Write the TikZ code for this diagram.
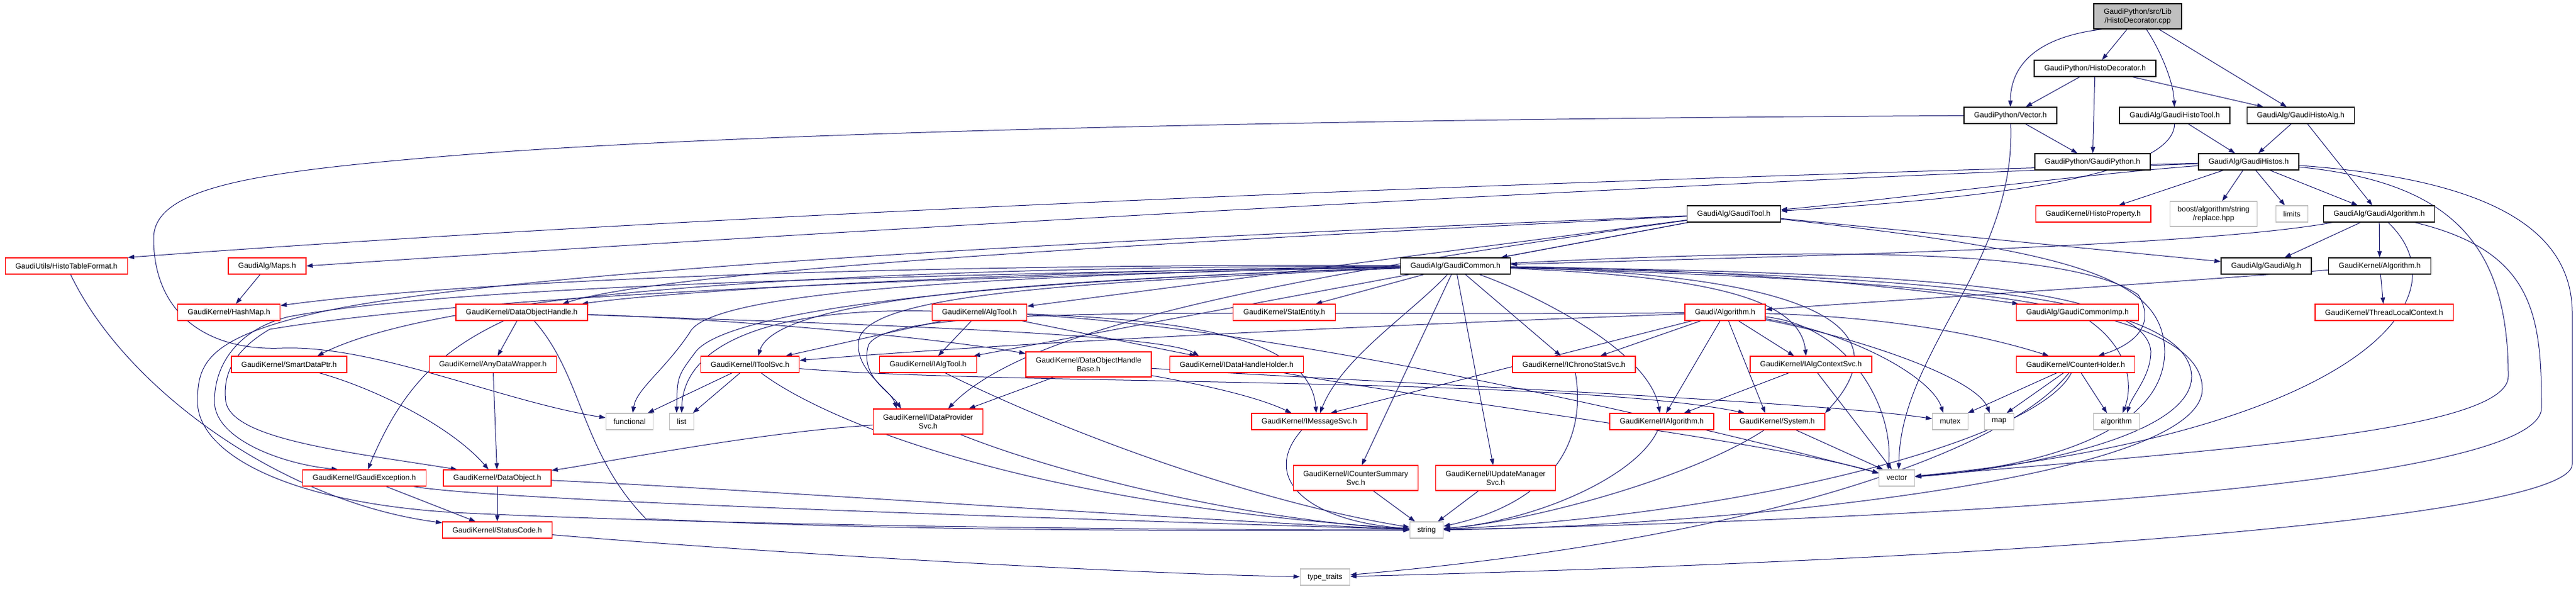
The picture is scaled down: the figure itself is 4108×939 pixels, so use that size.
\documentclass[tikz,border=0pt]{standalone}
\usepackage{fontspec}
\newfontfamily\dxfont{Liberation Sans}
\usetikzlibrary{arrows.meta}
\definecolor{edgeblue}{HTML}{191970}
\definecolor{sysgray}{HTML}{BFBFBF}
\pgfdeclarelayer{bg}
\pgfsetlayers{bg,main}

\begin{document}
\begin{tikzpicture}[x=1pt,y=-1pt,
	hdr/.style={draw=black,fill=white,line width=1.2pt,minimum height=26pt,
		inner xsep=16pt,inner ysep=2pt,align=center,
		font=\dxfont\fontsize{12}{14}\selectfont},
	hdrred/.style={hdr,draw=red},
	hdrsys/.style={hdr,draw=sysgray,inner xsep=12pt},
	hdrroot/.style={hdr,fill=sysgray},
	twol/.style={minimum height=40pt},
	inc/.style={draw=edgeblue,line width=1pt,-{Triangle[length=10pt,width=7pt]}}]
	\useasboundingbox (0,0) rectangle (4108,939);

	% row 0-3
	\node[hdrroot,twol] (root)   at (3409,26)  {GaudiPython/src/Lib\\/HistoDecorator.cpp};
	\node[hdr]          (hdec)   at (3341,109) {GaudiPython/HistoDecorator.h};
	\node[hdr]          (vec)    at (3206,184) {GaudiPython/Vector.h};
	\node[hdr]          (hisT)   at (3468,184) {GaudiAlg/GaudiHistoTool.h};
	\node[hdr]          (hisA)   at (3669,184) {GaudiAlg/GaudiHistoAlg.h};
	\node[hdr]          (gpy)    at (3337,258) {GaudiPython/GaudiPython.h};
	\node[hdr]          (histos) at (3586,258) {GaudiAlg/GaudiHistos.h};
	% row 4
	\node[hdrred]       (hprop)  at (3338,341) {GaudiKernel/HistoProperty.h};
	\node[hdrsys,twol]  (repl)   at (3530,341) {boost/algorithm/string\\/replace.hpp};
	\node[hdrsys]       (limits) at (3655,341) {limits};
	\node[hdr]          (galgo)  at (3794,341) {GaudiAlg/GaudiAlgorithm.h};
	\node[hdr]          (gtool)  at (2765,341) {GaudiAlg/GaudiTool.h};
	% row 5
	\node[hdrred]       (htf)     at (106,424)  {GaudiUtils/HistoTableFormat.h};
	\node[hdrred]       (maps)    at (426,424)  {GaudiAlg/Maps.h};
	\node[hdr]          (gcommon) at (2321,424) {GaudiAlg/GaudiCommon.h};
	\node[hdr]          (galg)    at (3614,424) {GaudiAlg/GaudiAlg.h};
	\node[hdr]          (kalgo)   at (3795,424) {GaudiKernel/Algorithm.h};
	% row 6
	\node[hdrred] (hashmap)    at (365,498)  {GaudiKernel/HashMap.h};
	\node[hdrred] (doh)        at (832,498)  {GaudiKernel/DataObjectHandle.h};
	\node[hdrred] (algtool)    at (1562,498) {GaudiKernel/AlgTool.h};
	\node[hdrred] (stat)       at (2048,498) {GaudiKernel/StatEntity.h};
	\node[hdrred] (galgorithm) at (2751,498) {Gaudi/Algorithm.h};
	\node[hdrred] (cimp)       at (3313,498) {GaudiAlg/GaudiCommonImp.h};
	\node[hdrred] (tlc)        at (3802,498) {GaudiKernel/ThreadLocalContext.h};
	% row 7
	\node[hdrred]      (sdp)      at (461,581)  {GaudiKernel/SmartDataPtr.h};
	\node[hdrred]      (adw)      at (786,581)  {GaudiKernel/AnyDataWrapper.h};
	\node[hdrred]      (itoolsvc) at (1196,581) {GaudiKernel/IToolSvc.h};
	\node[hdrred]      (ialgtool) at (1480,581) {GaudiKernel/IAlgTool.h};
	\node[hdrred,twol] (dohb)     at (1736,581) {GaudiKernel/DataObjectHandle\\Base.h};
	\node[hdrred]      (idhh)     at (1972,581) {GaudiKernel/IDataHandleHolder.h};
	\node[hdrred]      (ichrono)  at (2510,581) {GaudiKernel/IChronoStatSvc.h};
	\node[hdrred]      (ictx)     at (2888,581) {GaudiKernel/IAlgContextSvc.h};
	\node[hdrred]      (cholder)  at (3310,581) {GaudiKernel/CounterHolder.h};
	% row 8
	\node[hdrsys]      (functional) at (1004,672) {functional};
	\node[hdrsys]      (list)       at (1087,672) {list};
	\node[hdrred,twol] (idps)       at (1480,672) {GaudiKernel/IDataProvider\\Svc.h};
	\node[hdrred]      (imsg)       at (2088,672) {GaudiKernel/IMessageSvc.h};
	\node[hdrred]      (ialgo)      at (2650,672) {GaudiKernel/IAlgorithm.h};
	\node[hdrred]      (system)     at (2834,672) {GaudiKernel/System.h};
	\node[hdrsys]      (mutex)      at (3110,672) {mutex};
	\node[hdrsys]      (map)        at (3188,672) {map};
	\node[hdrsys]      (algorithm)  at (3375,672) {algorithm};
	% row 9-11
	\node[hdrred]      (gexc)   at (581,762)  {GaudiKernel/GaudiException.h};
	\node[hdrred]      (dobj)   at (793,762)  {GaudiKernel/DataObject.h};
	\node[hdrred,twol] (icss)   at (2162,762) {GaudiKernel/ICounterSummary\\Svc.h};
	\node[hdrred,twol] (iums)   at (2385,762) {GaudiKernel/IUpdateManager\\Svc.h};
	\node[hdrsys]      (vector) at (3025,762) {vector};
	\node[hdrred]      (scode)  at (793,845)  {GaudiKernel/StatusCode.h};
	\node[hdrsys]      (string) at (2275,845) {string};
	\node[hdrsys]      (tt)     at (2113,920) {type\_traits};

	\begin{pgfonlayer}{bg}
	% top part
	\draw[inc] (root.200) .. controls (3240,60) and (3206,110) .. (vec);
	\draw[inc] (root) -- (hdec);
	\draw[inc] (root) .. controls (3445,80) and (3466,130) .. (hisT);
	\draw[inc] (root) -- (hisA);
	\draw[inc] (hdec) -- (vec);
	\draw[inc] (hdec) -- (gpy);
	\draw[inc] (hdec) -- (hisA);
	\draw[inc] (vec) -- (gpy);
	\draw[inc] (vec) .. controls (2000,190) and (1100,215) .. (700,250) .. controls (400,275) and (245,300) .. (245,380)
		.. controls (245,500) and (330,560) .. (450,555) .. controls (600,550) and (800,640) .. (functional);
	\draw[inc] (vec) .. controls (3215,420) and (3030,560) .. ([xshift=3pt]vector.north);
	\draw[inc] (hisT) -- (histos);
	\draw[inc] (hisT) .. controls (3466,290) and (3100,320) .. (gtool);
	\draw[inc] (hisA) -- (histos);
	\draw[inc] (hisA) -- (galgo);
	% GaudiHistos.h
	\draw[inc] (histos) -- (hprop);
	\draw[inc] (histos) -- (repl);
	\draw[inc] (histos) -- (limits);
	\draw[inc] (histos) -- (galgo);
	\draw[inc] (histos) .. controls (3300,280) and (3000,320) .. (gtool);
	\draw[inc] (histos) .. controls (2600,285) and (1300,330) .. (htf.north east);
	\draw[inc] (histos) .. controls (2600,295) and (1300,370) .. (maps.east);
	\draw[inc] (histos) .. controls (3900,290) and (4000,380) .. (4000,600) .. controls (4000,690) and (3500,720) .. (vector);
	\draw[inc] (histos) .. controls (3960,285) and (4102,360) .. (4102,500) -- (4102,740)
		.. controls (4102,820) and (3300,890) .. (tt);
	% GaudiAlgorithm.h
	\draw[inc] (galgo) .. controls (3500,395) and (2800,410) .. (gcommon);
	\draw[inc] (galgo) -- (galg);
	\draw[inc] (galgo) -- (kalgo);
	\draw[inc] (galgo) .. controls (3940,480) and (3750,690) .. (vector);
	\draw[inc] (galgo) .. controls (4040,400) and (4053,500) .. (4053,650) .. controls (4053,780) and (3000,830) .. (string);
	% GaudiTool.h
	\draw[inc] (gtool) -- (gcommon);
	\draw[inc] (gtool) -- (algtool);
	\draw[inc] (gtool) -- (ialgtool);
	\draw[inc] (gtool) -- (galg);
	\draw[inc] (gtool) .. controls (3300,400) and (3450,440) .. (3452,560) .. controls (3452,690) and (3250,745) .. (vector);
	\draw[inc] (gtool) .. controls (2200,370) and (1100,420) .. ([xshift=65pt]doh.north);
	\draw[inc] (gtool) .. controls (1800,380) and (800,430) .. (500,500) .. controls (330,540) and (315,580) .. (315,640)
		.. controls (315,720) and (450,800) .. (723,817) .. controls (1200,840) and (1900,845) .. (string);
	\draw[inc] (gtool) .. controls (2050,440) and (1640,520) .. ([xshift=32pt]idps.north);
	% GaudiCommon.h
	\draw[inc] (gcommon) .. controls (1600,420) and (800,440) .. (hashmap);
	\draw[inc] (gcommon) .. controls (1700,430) and (1100,460) .. (doh);
	\draw[inc] (gcommon) .. controls (1300,425) and (700,470) .. ([xshift=45pt]sdp.north);
	\draw[inc] (gcommon) .. controls (1300,440) and (700,460) .. (460,505) .. controls (380,525) and (342,580) .. (342,640)
		.. controls (342,700) and (450,740) .. ([xshift=-42pt]gexc.north);
	\draw[inc] (gcommon) .. controls (1300,445) and (700,480) .. (430,525) .. controls (370,560) and (355,600) .. (360,640)
		.. controls (370,700) and (550,720) .. ([xshift=-64pt]dobj.north);
	\draw[inc] (gcommon) .. controls (1500,440) and (1130,470) .. (1100,530) .. controls (1060,590) and (1015,620) .. ([xshift=5pt]functional.north);
	\draw[inc] (gcommon) .. controls (1500,450) and (1160,500) .. (1110,560) .. controls (1080,600) .. ([xshift=-8pt]list.north);
	\draw[inc] (gcommon) .. controls (1700,445) and (1240,470) .. ([xshift=13pt]itoolsvc.north);
	\draw[inc] (gcommon) -- (stat);
	\draw[inc] (gcommon) .. controls (1700,450) and (1390,470) .. (1370,540) .. controls (1360,590) and (1420,620) .. ([xshift=-50pt]idps.north);
	\draw[inc] (gcommon) -- ([xshift=-21pt]ichrono.north);
	\draw[inc] (gcommon) .. controls (2700,440) and (2870,470) .. ([xshift=-8pt]ictx.north);
	\draw[inc] (gcommon) .. controls (2450,470) and (2630,560) .. ([xshift=-3pt]ialgo.north);
	\draw[inc] (gcommon) .. controls (2950,440) and (3020,540) .. (system.north east);
	\draw[inc] (gcommon) .. controls (2250,500) and (2140,570) .. ([xshift=17pt]imsg.north);
	\draw[inc] (gcommon) -- (icss);
	\draw[inc] (gcommon) -- (iums);
	\draw[inc] (gcommon) .. controls (2800,430) and (3050,460) .. (cimp);
	\draw[inc] (gcommon) .. controls (2900,395) and (3300,395) .. (3410,470) .. controls (3440,520) and (3400,550) .. ([xshift=36pt]cholder.north);
	\draw[inc] (gcommon) .. controls (3000,435) and (3420,450) .. (3430,560) .. controls (3430,600) and (3400,630) .. ([xshift=17pt]algorithm.north);
	\draw[inc] (gcommon) .. controls (3000,440) and (3490,460) .. (3495,600) .. controls (3495,700) and (3200,750) .. (vector);
	\draw[inc] (gcommon) .. controls (3000,445) and (3512,470) .. (3512,620) .. controls (3512,770) and (2700,840) .. (string);
	% GaudiKernel/Algorithm.h and Gaudi/Algorithm.h
	\draw[inc] (kalgo) .. controls (3400,455) and (3000,480) .. (galgorithm);
	\draw[inc] (kalgo) -- (tlc);
	\draw[inc] (galgorithm) .. controls (2300,515) and (1700,540) .. (itoolsvc);
	\draw[inc] (galgorithm) .. controls (2000,505) and (1420,480) .. (1385,550) .. controls (1370,600) and (1420,625) .. ([xshift=-43pt]idps.north);
	\draw[inc] (galgorithm) -- ([xshift=42pt]ichrono.north);
	\draw[inc] (galgorithm) -- ([xshift=-27pt]ictx.north);
	\draw[inc] (galgorithm) -- ([xshift=7pt]ialgo.north);
	\draw[inc] (galgorithm) -- ([xshift=-19pt]system.north);
	\draw[inc] (galgorithm) -- ([xshift=34pt]imsg.north);
	\draw[inc] (galgorithm) .. controls (3000,505) and (3150,530) .. (cholder);
	\draw[inc] (galgorithm) .. controls (2950,520) and (3020,650) .. ([xshift=-14pt]vector.north);
	\draw[inc] (galgorithm) .. controls (2950,530) and (3080,600) .. ([xshift=-11pt]mutex.north);
	\draw[inc] (galgorithm) .. controls (2950,535) and (3150,600) .. ([xshift=-15pt]map.north);
	% AlgTool.h
	\draw[inc] (algtool) -- ([xshift=57pt]itoolsvc.north);
	\draw[inc] (algtool) -- ([xshift=16pt]ialgtool.north);
	\draw[inc] (algtool) -- ([xshift=-65pt]idhh.north);
	\draw[inc] (algtool) .. controls (1250,490) and (1090,540) .. (list.north);
	\draw[inc] (algtool) .. controls (1900,510) and (2090,540) .. ([xshift=11pt]imsg.north);
	\draw[inc] (algtool) .. controls (2000,520) and (2600,650) .. (vector);
	% DataObjectHandle.h
	\draw[inc] (doh) -- (adw);
	\draw[inc] (doh) .. controls (700,560) and (640,620) .. (gexc);
	\draw[inc] (doh) .. controls (1200,510) and (1500,540) .. (dohb);
	\draw[inc] (doh) .. controls (1300,515) and (1850,530) .. ([xshift=-60pt]idhh.north);
	\draw[inc] ([xshift=20pt]doh.south) .. controls (930,600) and (926,720) .. (1030,827) .. controls (1500,850) and (2000,845) .. (string);
	\draw[inc] (sdp) .. controls (600,620) and (720,680) .. ([xshift=-14pt]dobj.north);
	\draw[inc] (adw) -- (dobj);
	% interfaces
	\draw[inc] (itoolsvc) -- ([xshift=29pt]functional.north);
	\draw[inc] (itoolsvc) -- ([xshift=18pt]list.north);
	\draw[inc] (itoolsvc) .. controls (1300,660) and (1600,800) .. (string);
	\draw[inc] (itoolsvc) .. controls (1600,615) and (2500,600) .. ([xshift=-52pt]system.north);
	\draw[inc] (ialgtool) .. controls (1700,690) and (2000,800) .. (string);
	\draw[inc] (dohb) -- ([xshift=65pt]idps.north);
	\draw[inc] (dohb) .. controls (1900,610) and (2000,630) .. (imsg);
	\draw[inc] (dohb) .. controls (2200,610) and (2900,640) .. (mutex);
	\draw[inc] (idhh) .. controls (2300,640) and (2800,700) .. (vector);
	\draw[inc] (idps) .. controls (1200,690) and (950,740) .. (dobj);
	\draw[inc] (idps) .. controls (1700,760) and (2000,830) .. (string);
	\draw[inc] (imsg) .. controls (2010,760) and (2080,830) .. (string);
	\draw[inc] (icss) -- (string);
	\draw[inc] (iums) -- (string);
	\draw[inc] (ichrono) .. controls (2530,700) and (2480,800) .. (string);
	\draw[inc] (ialgo) .. controls (2610,760) and (2450,830) .. (string);
	\draw[inc] (system) .. controls (2700,760) and (2450,830) .. (string);
	\draw[inc] (system) -- ([xshift=-22pt]vector.north);
	\draw[inc] (ictx) -- (ialgo);
	\draw[inc] (ictx) -- ([xshift=-8pt]vector.north);
	% CounterHolder.h and GaudiCommonImp.h
	\draw[inc] (cimp) .. controls (3400,560) and (3400,620) .. ([xshift=10pt]algorithm.north);
	\draw[inc] (cholder) -- ([xshift=28pt]mutex.north);
	\draw[inc] (cholder) -- ([xshift=12pt]map.north);
	\draw[inc] (cholder) -- ([xshift=-15pt]algorithm.north);
	\draw[inc] (cholder) .. controls (3250,700) and (2800,820) .. (string);
	\draw[inc] (cholder) .. controls (3200,720) and (2800,860) .. (tt);
	% bottom left
	\draw[inc] (maps) -- (hashmap);
	\draw[inc] (htf) .. controls (200,620) and (450,800) .. (scode);
	\draw[inc] (gexc) -- (scode);
	\draw[inc] (dobj) -- (scode);
	\draw[inc] (gexc) .. controls (800,800) and (1800,830) .. (string);
	\draw[inc] (dobj) .. controls (1200,780) and (1900,830) .. (string);
	\draw[inc] (scode) .. controls (1200,880) and (1800,915) .. (tt);
	\end{pgfonlayer}
\end{tikzpicture}
\end{document}
